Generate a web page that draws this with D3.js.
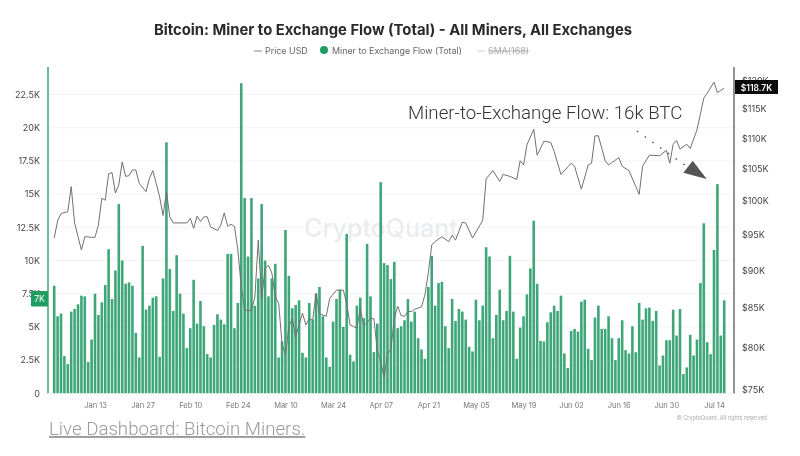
<!DOCTYPE html>
<html>
<head>
<meta charset="utf-8">
<script src="https://cdnjs.cloudflare.com/ajax/libs/d3/7.8.5/d3.min.js"></script>
<style>
html, body { margin: 0; padding: 0; background: #fff; }
svg { display: block; filter: blur(0.45px); }
text { font-family: Inter, "Noto Sans", sans-serif; }
</style>
</head>
<body>
<svg id="chart" width="800" height="456"></svg>
<script>
// daily miner to exchange flow in thousands of BTC, starts Jan 1
var flowValues = [
8.1,5.8,6.0,2.8,2.2,6.15,6.35,6.7,7.35,7.3,2.35,4.05,7.5,5.9,6.85,8.15,10.85,7.1,9.25,14.25,
10.0,8.25,8.35,8.1,4.55,2.7,11.1,6.3,6.6,7.2,7.3,2.75,8.65,18.9,9.35,6.2,10.4,7.5,6.0,3.4,
4.9,8.55,5.25,6.95,5.05,2.95,2.7,5.15,5.95,5.55,5.2,10.5,10.5,4.9,6.8,23.35,14.7,10.3,14.7,6.6,
8.65,14.25,10.0,7.3,8.65,9.75,2.7,3.9,12.3,8.85,6.4,6.65,7.0,3.05,2.7,6.8,5.55,7.5,8.0,5.8,
2.7,2.0,5.4,7.1,7.8,5.0,12.0,2.9,2.4,6.6,7.2,5.65,11.25,7.3,3.1,5.25,15.9,9.8,9.65,8.6,
9.9,4.9,5.05,5.5,7.1,5.4,6.15,4.15,3.3,2.6,8.0,10.35,6.6,8.3,8.4,5.05,3.4,7.1,5.45,6.35,
6.15,5.55,3.5,3.15,7.05,5.5,6.6,11.0,10.3,4.15,5.9,7.8,5.5,6.2,10.35,6.15,2.6,4.95,5.8,7.45,
9.4,13.0,8.25,3.95,3.9,5.35,6.1,6.6,6.2,7.35,3.0,1.9,4.7,4.85,4.65,6.9,7.05,3.35,2.5,5.7,
6.6,4.85,4.85,5.8,4.15,2.5,4.15,5.5,3.25,3.0,5.05,3.1,6.8,5.55,6.4,6.45,5.45,6.2,2.1,2.85,
4.0,4.0,6.3,4.35,6.35,1.45,1.95,4.4,2.85,4.05,8.3,12.8,3.85,2.95,10.8,15.75,4.35,7.0
];

// price turning points, day number since Jan 1 and price in thousands of USD
var priceDays = [
0,1,2,4,5,6,7,8,9,11,12,13,14,15,16,17,18,19,20,21,22,23,24,25,27,28,29,30,31,32,33,34,35,39,40,41,42,43,44,45,46,48,49,50,51,52,53,54,55,56,58,59,60,61,
62,63,64,65,66,67,68,69,70,71,73,74,75,76,77,78,80,81,83,85,86,87,89,90,91,93,94,95,96,97,98,99,100,101,102,103,104,105,106,108,109,110,111,
112,114,116,117,118,120,121,123,126,127,129,131,132,134,136,137,138,139,141,142,144,146,147,149,152,153,155,157,158,159,160,162,163,166,167,169,172,173,175,178,180,181,182,183,184,186,187,189,191,192,194,195,197
];
var priceValues = [
94.5,97.0,98.1,98.35,102.2,96.7,94.7,92.8,94.7,94.6,94.6,96.4,100.4,100.1,104.2,104.4,101.2,102.5,106.1,103.8,103.9,104.8,104.8,102.7,101.4,103.5,104.7,102.7,100.6,97.8,101.4,97.6,96.7,96.7,97.4,95.9,97.7,96.9,97.6,97.6,96.1,95.6,96.4,98.2,96.2,96.5,96.2,92.8,87.8,84.7,84.6,86.4,94.2,86.2,
90.2,90.7,89.6,86.4,85.6,80.4,79.1,82.6,83.6,81.3,84.3,82.8,83.6,83.4,86.9,84.2,83.9,86.2,87.3,87.3,85.6,82.8,82.4,84.9,82.7,83.6,83.6,79.6,78.4,76.4,79.2,79.8,83.6,85.2,84.0,83.9,84.5,84.5,84.8,85.1,86.7,89.6,93.5,
94.0,94.7,94.0,94.9,94.2,96.8,96.7,94.5,97.1,103.4,104.7,103.0,104.1,103.8,103.3,106.3,105.6,108.9,111.5,107.2,109.5,109.3,107.8,104.1,105.9,105.4,101.8,105.6,105.9,110.4,110.4,106.3,105.6,106.8,105.4,104.7,101.0,105.4,107.2,107.1,108.0,105.9,109.0,109.6,108.2,109.0,108.3,111.4,116.9,117.8,119.8,117.9,118.7
];

var flowTicks = [0,2.5,5,7.5,10,12.5,15,17.5,20,22.5];
var priceTicks = [75,80,85,90,95,100,105,110,115,120];
var dateTicks = ["2025-01-13","2025-01-27","2025-02-10","2025-02-24","2025-03-10","2025-03-24","2025-04-07","2025-04-21","2025-05-05","2025-05-19","2025-06-02","2025-06-16","2025-06-30","2025-07-14"];

var startDate = new Date(Date.UTC(2025, 0, 1));
function dayToDate(n){ return d3.utcDay.offset(startDate, n); }

var svg = d3.select("#chart");

var x = d3.scaleUtc().domain([startDate, dayToDate(197)]).range([54.2, 724.2]);
var yFlow = d3.scaleLinear().domain([0, 24.57]).range([393.3, 67]);
var yPrice = d3.scaleLog().domain([75, 120]).range([390, 81]);

// faint grid
svg.append("g").selectAll("line").data(flowTicks.slice(1)).enter().append("line")
    .attr("x1", 50).attr("x2", 733)
    .attr("y1", function(d){ return yFlow(d); })
    .attr("y2", function(d){ return yFlow(d); })
    .attr("stroke", "#f3f3f3").attr("stroke-width", 1);

// watermark
svg.append("text").attr("x", 381).attr("y", 237)
    .attr("text-anchor", "middle").attr("font-size", 25).attr("font-weight", 500)
    .attr("fill", "#ebecf0").text("CryptoQuant");

// bars
svg.append("g").selectAll("rect").data(flowValues).enter().append("rect")
    .attr("x", function(d, i){ return x(dayToDate(i)) - 1.3; })
    .attr("y", function(d){ return yFlow(d); })
    .attr("width", 2.6)
    .attr("height", function(d){ return yFlow(0) - yFlow(d); })
    .attr("fill", "#3fa679");

// price line
var priceLine = d3.line()
    .x(function(d, i){ return x(dayToDate(d)); })
    .y(function(d, i){ return yPrice(priceValues[i]); });
svg.append("path").datum(priceDays).attr("d", priceLine)
    .attr("fill", "none").attr("stroke", "#707070").attr("stroke-width", 1);

// axes
var leftAxis = d3.axisLeft(yFlow).tickValues(flowTicks).tickSize(0).tickPadding(0)
    .tickFormat(function(d){ return d == 0 ? "0" : d + "K"; });
var gLeft = svg.append("g").attr("transform", "translate(40,0)").call(leftAxis);

var rightAxis = d3.axisRight(yPrice).tickValues(priceTicks).tickSize(0).tickPadding(0)
    .tickFormat(function(d){ return "$" + d + "K"; });
var gRight = svg.append("g").attr("transform", "translate(742,0)").call(rightAxis);

var bottomAxis = d3.axisBottom(x).tickValues(dateTicks.map(function(d){ return new Date(d); }))
    .tickSize(0).tickPadding(0).tickFormat(d3.utcFormat("%b %d"));
var gBottom = svg.append("g").attr("transform", "translate(0,403)").call(bottomAxis);

gLeft.select(".domain").remove();
gRight.select(".domain").remove();
gBottom.select(".domain").remove();
gLeft.selectAll("text").attr("font-size", 9).attr("fill", "#444").style("font-family", "Inter");
gRight.selectAll("text").attr("font-size", 9).attr("fill", "#444").style("font-family", "Inter");
gBottom.selectAll("text").attr("font-size", 7.5).attr("fill", "#777").style("font-family", "Inter");

svg.append("line").attr("x1", 48).attr("x2", 48).attr("y1", 67).attr("y2", 393.5)
    .attr("stroke", "#3fa679").attr("stroke-width", 1.5);
svg.append("line").attr("x1", 734).attr("x2", 734).attr("y1", 67).attr("y2", 393.5)
    .attr("stroke", "#555").attr("stroke-width", 1.3);
svg.append("line").attr("x1", 48).attr("x2", 734).attr("y1", 393.8).attr("y2", 393.8)
    .attr("stroke", "#dfeee7").attr("stroke-width", 0.8);

// value badges
svg.append("rect").attr("x", 31).attr("y", 291).attr("width", 17).attr("height", 15.5).attr("rx", 1).attr("fill", "#1f9d63");
svg.append("text").attr("x", 39.5).attr("y", 302).attr("text-anchor", "middle").attr("font-size", 8.5).attr("fill", "#fff").text("7K");
svg.append("rect").attr("x", 735).attr("y", 80).attr("width", 43).attr("height", 14).attr("fill", "#0a0a0a");
svg.append("text").attr("x", 756.5).attr("y", 90.5).attr("text-anchor", "middle").attr("font-size", 8.5).attr("font-weight", 600).attr("fill", "#fff").text("$118.7K");

// title and legend
svg.append("text").attr("x", 393).attr("y", 35).attr("text-anchor", "middle")
    .attr("font-size", 14.8).attr("font-weight", 700).attr("fill", "#2a2a2a")
    .text("Bitcoin: Miner to Exchange Flow (Total) - All Miners, All Exchanges");

svg.append("line").attr("x1", 254).attr("x2", 262).attr("y1", 51).attr("y2", 51).attr("stroke", "#888");
svg.append("text").attr("x", 265).attr("y", 54).attr("font-size", 8.9).attr("fill", "#666").text("Price USD");
svg.append("circle").attr("cx", 324).attr("cy", 50).attr("r", 4).attr("fill", "#1f9d63");
svg.append("text").attr("x", 332).attr("y", 54).attr("font-size", 8.9).attr("fill", "#666").text("Miner to Exchange Flow (Total)");
svg.append("line").attr("x1", 477).attr("x2", 485).attr("y1", 51).attr("y2", 51).attr("stroke", "#ccc");
svg.append("text").attr("x", 488).attr("y", 54).attr("font-size", 8.9).attr("fill", "#aaa").attr("text-decoration", "line-through").text("SMA(168)");

// annotation
svg.append("text").attr("x", 408).attr("y", 119).attr("font-size", 18.7).attr("font-weight", 300)
    .style("font-family", "Roboto").attr("fill", "#333").text("Miner-to-Exchange Flow: 16k BTC");
svg.append("line").attr("x1", 637).attr("y1", 131).attr("x2", 686).attr("y2", 166)
    .attr("stroke", "#555").attr("stroke-width", 1.5).attr("stroke-dasharray", "1.5 8");
svg.append("polygon").attr("points", "692.7,160.7 683.3,172.7 706.7,179").attr("fill", "#555");

// footer
svg.append("text").attr("x", 49).attr("y", 435).attr("font-size", 18.7).attr("font-weight", 300)
    .style("font-family", "Roboto").attr("fill", "#999").attr("text-decoration", "underline")
    .text("Live Dashboard: Bitcoin Miners.");
svg.append("text").attr("x", 767).attr("y", 420).attr("text-anchor", "end").attr("font-size", 5.5)
    .attr("fill", "#aaa").text("© CryptoQuant. All rights reserved");
</script>
</body>
</html>
